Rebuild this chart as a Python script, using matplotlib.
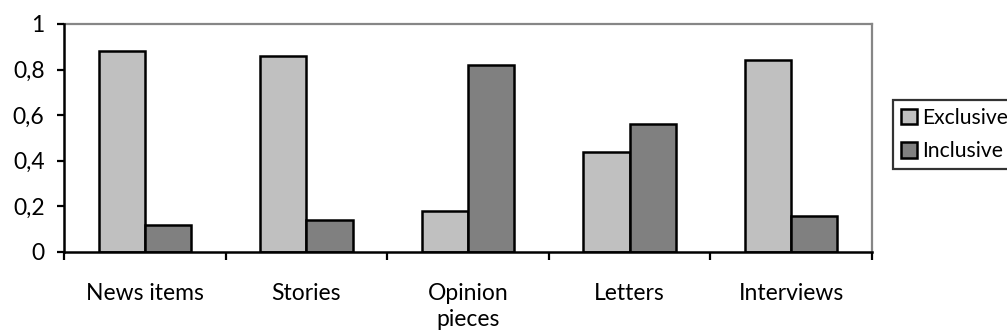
import matplotlib
matplotlib.use("Agg")
import matplotlib.pyplot as plt
import numpy as np

categories = ["News items", "Stories", "Opinion\npieces", "Letters", "Interviews"]
exclusive = [0.88, 0.86, 0.18, 0.44, 0.84]
inclusive = [0.12, 0.14, 0.82, 0.56, 0.16]
series_names = ["Exclusive", "Inclusive"]
yticks = [0, 0.2, 0.4, 0.6, 0.8, 1.0]
ytick_labels = ["0", "0,2", "0,4", "0,6", "0,8", "1"]

plt.rcParams['font.family'] = ['Lato', 'DejaVu Sans']
FS = 16.5
LFS = 15.2

fig = plt.figure(figsize=(10.07, 3.36), dpi=100)
ax = fig.add_axes([64/1007, 1-252/336, (872-64)/1007, (252-24)/336])

x = np.arange(len(categories))
w = 0.286
lw = 1.8
b1 = ax.bar(x - w/2, exclusive, w, color="#C0C0C0", edgecolor="black", linewidth=lw, label=series_names[0])
b2 = ax.bar(x + w/2, inclusive, w, color="#808080", edgecolor="black", linewidth=lw, label=series_names[1])

ax.set_xlim(-0.5, len(categories) - 0.5)
ax.set_ylim(0, 1)
ax.set_yticks(yticks)
ax.set_yticklabels(ytick_labels, fontsize=FS)
ax.set_xticks(x)
ax.set_xticklabels(categories, fontsize=FS, linespacing=1.3)
ax.set_xticks(np.arange(len(categories) + 1) - 0.5, minor=True)
ax.tick_params(axis='x', which='major', length=0, pad=22)
ax.tick_params(axis='x', which='minor', length=5.5, width=1.6, direction='out', color='black')
ax.tick_params(axis='y', which='major', length=5, width=1.6, direction='out', pad=9, color='black')

for s in ['left', 'bottom']:
    ax.spines[s].set_color('black')
    ax.spines[s].set_linewidth(1.8)
for s in ['top', 'right']:
    ax.spines[s].set_color('#868686')
    ax.spines[s].set_linewidth(1.6)
ax.spines['top'].set_zorder(0.5)
ax.spines['right'].set_zorder(0.5)

leg = fig.legend(handles=[b1, b2], labels=series_names, loc='upper left',
                 bbox_to_anchor=(893/1007, 1-100/336), borderaxespad=0,
                 fontsize=LFS, fancybox=False, frameon=True,
                 handlelength=0.76, handleheight=0.76, handletextpad=0.25,
                 borderpad=0.38, labelspacing=0.62)
leg.get_frame().set_edgecolor('black')
leg.get_frame().set_linewidth(1.6)

fig.savefig("out.png", dpi=100)
